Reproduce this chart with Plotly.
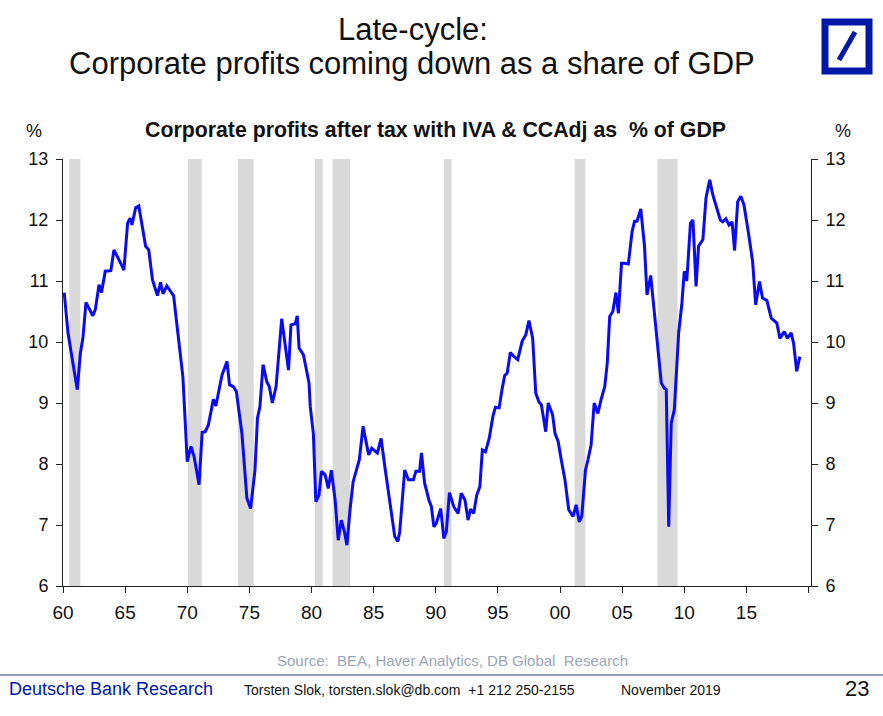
import plotly.graph_objects as go

# ---- data (decimal years, % of GDP) ----
years = [1960.1, 1960.4, 1960.8, 1961.15, 1961.4, 1961.6, 1961.85, 1962.4, 1962.6, 1962.9,
         1963.1, 1963.4, 1963.85, 1964.1, 1964.7, 1964.9, 1965.2, 1965.4, 1965.55, 1965.85,
         1966.1, 1966.65, 1966.9, 1967.2, 1967.6, 1967.85, 1968.05, 1968.35, 1968.9, 1969.1,
         1969.65, 1970.0, 1970.3, 1970.55, 1970.95, 1971.2, 1971.45, 1971.7, 1972.1, 1972.3,
         1972.8, 1973.2, 1973.4, 1973.7, 1973.95, 1974.4, 1974.8, 1975.1, 1975.45, 1975.65,
         1975.85, 1976.1, 1976.4, 1976.6, 1976.85, 1977.15, 1977.6, 1978.15, 1978.35, 1978.7,
         1978.85, 1979.0, 1979.35, 1979.8, 1979.9, 1980.15, 1980.35, 1980.6, 1980.8, 1981.1,
         1981.35, 1981.6, 1981.9, 1982.15, 1982.4, 1982.65, 1982.85, 1983.1, 1983.35, 1983.85,
         1984.15, 1984.6, 1984.85, 1985.3, 1985.6, 1985.9, 1986.4, 1986.7, 1986.95, 1987.1,
         1987.5, 1987.8, 1988.2, 1988.4, 1988.7, 1988.85, 1989.1, 1989.45, 1989.65, 1989.85,
         1990.05, 1990.4, 1990.65, 1990.85, 1991.1, 1991.45, 1991.8, 1992.05, 1992.35, 1992.6,
         1992.8, 1993.05, 1993.3, 1993.55, 1993.75, 1994.0, 1994.3, 1994.6, 1994.8, 1995.1,
         1995.35, 1995.55, 1995.75, 1996.0, 1996.3, 1996.6, 1996.95, 1997.25, 1997.5, 1997.8,
         1998.05, 1998.3, 1998.5, 1998.85, 1999.05, 1999.4, 1999.6, 1999.85, 2000.1, 2000.4,
         2000.7, 2001.05, 2001.3, 2001.55, 2001.75, 2002.05, 2002.25, 2002.5, 2002.75, 2003.05,
         2003.3, 2003.6, 2003.8, 2004.0, 2004.25, 2004.5, 2004.7, 2004.95, 2005.2, 2005.5,
         2005.8, 2006.0, 2006.2, 2006.5, 2006.8, 2007.0, 2007.3, 2007.5, 2007.9, 2008.15,
         2008.4, 2008.55, 2008.75, 2008.95, 2009.2, 2009.55, 2009.8, 2010.0, 2010.2, 2010.5,
         2010.7, 2010.95, 2011.15, 2011.5, 2011.75, 2012.05, 2012.3, 2012.6, 2012.9, 2013.1,
         2013.35, 2013.6, 2013.85, 2014.05, 2014.3, 2014.55, 2014.8, 2015.15, 2015.5, 2015.75,
         2016.05, 2016.3, 2016.65, 2017.0, 2017.45, 2017.7, 2018.05, 2018.3, 2018.6, 2018.8,
         2019.05, 2019.3]
profits = [10.81, 10.15, 9.65, 9.22, 9.82, 10.06, 10.65, 10.43, 10.53, 10.94,
           10.81, 11.16, 11.17, 11.51, 11.27, 11.18, 11.95, 12.03, 11.92, 12.20,
           12.23, 11.57, 11.51, 11.02, 10.76, 10.98, 10.79, 10.92, 10.76, 10.42,
           9.43, 8.04, 8.29, 8.12, 7.66, 8.52, 8.53, 8.64, 9.06, 8.95,
           9.46, 9.68, 9.30, 9.27, 9.19, 8.50, 7.44, 7.27, 7.90, 8.75,
           8.94, 9.63, 9.35, 9.27, 9.00, 9.27, 10.38, 9.54, 10.28, 10.30,
           10.43, 9.90, 9.79, 9.33, 8.94, 8.50, 7.38, 7.49, 7.88, 7.82,
           7.60, 7.90, 7.41, 6.75, 7.08, 6.89, 6.67, 7.25, 7.71, 8.07,
           8.62, 8.15, 8.26, 8.18, 8.42, 7.96, 7.25, 6.81, 6.73, 6.89,
           7.90, 7.74, 7.74, 7.88, 7.88, 8.18, 7.69, 7.41, 7.30, 6.97,
           7.03, 7.27, 6.78, 6.89, 7.53, 7.30, 7.19, 7.52, 7.41, 7.08,
           7.26, 7.19, 7.49, 7.63, 8.23, 8.20, 8.42, 8.78, 8.93, 8.92,
           9.24, 9.45, 9.49, 9.83, 9.76, 9.71, 10.01, 10.12, 10.35, 10.06,
           9.16, 9.02, 8.97, 8.53, 9.00, 8.81, 8.50, 8.37, 8.07, 7.74,
           7.25, 7.14, 7.33, 7.05, 7.14, 7.90, 8.07, 8.31, 9.00, 8.83,
           9.05, 9.27, 9.65, 10.42, 10.50, 10.81, 10.47, 11.29, 11.29, 11.28,
           11.81, 11.98, 11.98, 12.18, 11.57, 10.77, 11.09, 10.66, 9.87, 9.33,
           9.24, 9.22, 6.97, 8.67, 8.89, 10.15, 10.61, 11.16, 11.00, 11.95,
           12.00, 10.91, 11.57, 11.68, 12.36, 12.66, 12.41, 12.20, 12.00, 11.97,
           12.02, 11.92, 11.97, 11.50, 12.30, 12.39, 12.25, 11.81, 11.32, 10.61,
           10.99, 10.72, 10.68, 10.39, 10.31, 10.06, 10.17, 10.06, 10.15, 9.98,
           9.52, 9.76]

recession_start = [1960.5, 1970.05, 1974.07, 1980.28, 1981.7, 1990.67, 2001.18, 2007.85]
recession_end = [1961.4, 1971.17, 1975.35, 1980.9, 1983.12, 1991.27, 2002.04, 2009.46]

x_tick_vals = [1960, 1965, 1970, 1975, 1980, 1985, 1990, 1995, 2000, 2005, 2010, 2015, 2020]
x_tick_text = ["60", "65", "70", "75", "80", "85", "90", "95", "00", "05", "10", "15", ""]
y_tick_vals = [6, 7, 8, 9, 10, 11, 12, 13]

FONT = "Liberation Sans, Arial, sans-serif"
BLUE = "#0018a8"
W, H = 883, 716
ML, MR, MT, MB = 63, 72, 159, 130
PW, PH = W - ML - MR, H - MT - MB

fig = go.Figure()
fig.add_trace(go.Scatter(x=years, y=profits, mode="lines",
                         line=dict(color="#0a0af5", width=3), showlegend=False,
                         hoverinfo="skip"))
fig.add_trace(go.Scatter(x=[years[0]], y=[profits[0]], yaxis="y2", mode="markers",
                         marker=dict(opacity=0), showlegend=False, hoverinfo="skip"))

for s, e in zip(recession_start, recession_end):
    fig.add_shape(type="rect", xref="x", yref="paper", x0=s, x1=e, y0=0, y1=1,
                  fillcolor="#d9d9d9", line=dict(width=0), layer="below")

axis_common = dict(showgrid=False, zeroline=False, showline=True, linecolor="#222",
                   linewidth=1, ticks="outside", ticklen=6, tickcolor="#222")

fig.update_layout(
    width=W, height=H,
    margin=dict(l=ML, r=MR, t=MT, b=MB, autoexpand=False),
    paper_bgcolor="white", plot_bgcolor="white",
    xaxis=dict(range=[1960, 2020.2], tickvals=x_tick_vals, ticktext=x_tick_text,
               ticklabelstandoff=3, tickfont=dict(family=FONT, size=19, color="#111"),
               **axis_common),
    yaxis=dict(range=[6, 13], tickvals=y_tick_vals, ticklabelstandoff=4,
               tickfont=dict(family=FONT, size=18, color="#111"), **axis_common),
    yaxis2=dict(range=[6, 13], tickvals=y_tick_vals, overlaying="y", side="right",
                ticklabelstandoff=4, tickfont=dict(family=FONT, size=18, color="#111"),
                **axis_common),
)


def px2paper(xpx, ypx):
    return (xpx - ML) / PW, 1 - (ypx - MT) / PH


def add_px_text(text, xpx, ypx, size, color="#111", anchor="center"):
    px, py = px2paper(xpx, ypx)
    fig.add_annotation(text=text, xref="paper", yref="paper", x=px, y=py,
                       xanchor=anchor, yanchor="middle", showarrow=False,
                       font=dict(family=FONT, size=size, color=color))


add_px_text("Late-cycle:", 413, 30, 31)
add_px_text("Corporate profits coming down as a share of GDP", 412, 64, 31)
add_px_text("<b>Corporate profits after tax with IVA &amp; CCAdj as  % of GDP</b>", 435, 130, 21.3)
add_px_text("%", 34, 131, 18)
add_px_text("%", 843, 131, 18)
add_px_text("Source:  BEA, Haver Analytics, DB Global  Research", 452, 660, 15, "#9aa6b8")
add_px_text("Deutsche Bank Research", 7, 689, 18, BLUE, "left")
add_px_text("Torsten Slok, torsten.slok@db.com  +1 212 250-2155", 242, 690, 14, "#111", "left")
add_px_text("November 2019", 619, 690, 14, "#111", "left")
add_px_text("23", 871, 688, 22, "#111", "right")

# footer separator line
x0, y0 = px2paper(0, 675)
x1, _ = px2paper(W, 675)
fig.add_shape(type="line", xref="paper", yref="paper", x0=x0, x1=x1, y0=y0, y1=y0,
              line=dict(color="#8fa0b8", width=2))

# logo
lx0, ly0 = px2paper(825, 22)
lx1, ly1 = px2paper(869, 71)
fig.add_shape(type="rect", xref="paper", yref="paper", x0=lx0, x1=lx1, y0=ly1, y1=ly0,
              line=dict(color=BLUE, width=7), fillcolor="white")
sx0, sy0 = px2paper(839, 60)
sx1, sy1 = px2paper(855, 32)
fig.add_shape(type="line", xref="paper", yref="paper", x0=sx0, x1=sx1, y0=sy0, y1=sy1,
              line=dict(color=BLUE, width=5))

fig.write_html("out.html", config={"displayModeBar": False},
               post_script="document.body.style.margin='0';document.body.style.overflow='hidden';")
